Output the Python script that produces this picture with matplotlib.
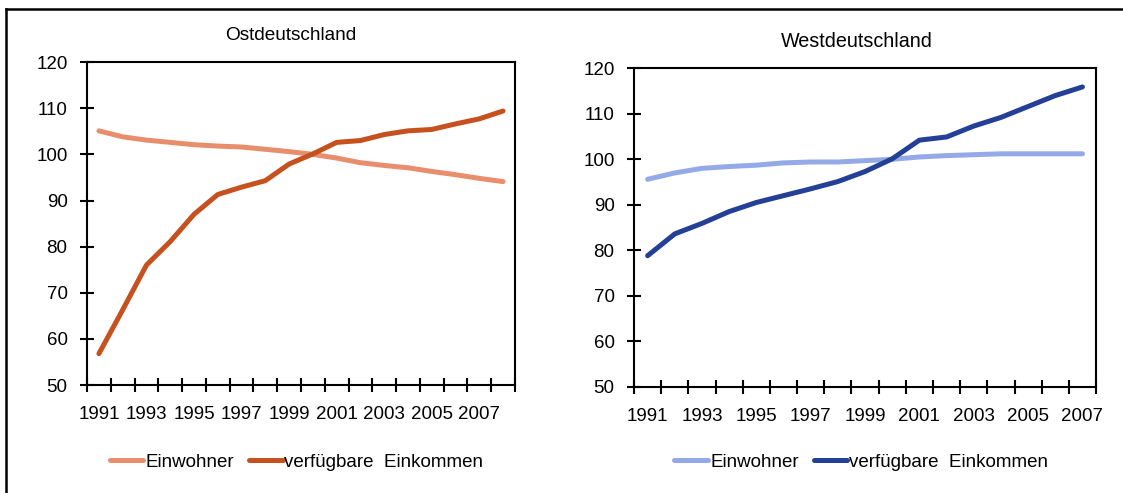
import numpy as np
import matplotlib
matplotlib.use('Agg')
import matplotlib.pyplot as plt
from matplotlib.lines import Line2D

plt.rcParams['font.family'] = ['Liberation Sans', 'DejaVu Sans']

# ── Data ─────────────────────────────────────────────────────
years_ost = list(range(1991, 2009))
ost_einwohner = [105.1, 103.8, 103.1, 102.6, 102.1, 101.8, 101.6, 101.1, 100.6,
                 100.0, 99.2, 98.2, 97.6, 97.1, 96.3, 95.6, 94.8, 94.1]
ost_einkommen = [56.8, 66.3, 76.0, 81.1, 87.0, 91.3, 92.9, 94.3, 97.9,
                 100.1, 102.6, 103.0, 104.3, 105.1, 105.4, 106.6, 107.7, 109.4]

years_west = list(range(1991, 2008))
west_einwohner = [95.6, 97.0, 98.0, 98.4, 98.7, 99.2, 99.4, 99.4, 99.7,
                  100.0, 100.5, 100.8, 101.0, 101.2, 101.2, 101.2, 101.2]
west_einkommen = [78.8, 83.6, 85.9, 88.5, 90.5, 92.0, 93.5, 95.1, 97.3,
                  100.1, 104.2, 104.9, 107.3, 109.2, 111.6, 114.0, 115.9]

label_years = [1991, 1993, 1995, 1997, 1999, 2001, 2003, 2005, 2007]

fs = 13.5
fig = plt.figure(figsize=(11.23, 4.93), dpi=100)


def panel(rect, years, einw, eink, c_light, c_dark, legend_x):
    ax = fig.add_axes(rect)
    x = np.arange(len(years))
    ax.plot(x, einw, color=c_light, linewidth=3.6, solid_capstyle='round', label='Einwohner')
    ax.plot(x, eink, color=c_dark, linewidth=3.6, solid_capstyle='round',
            label='verfügbare  Einkommen')
    ax.set_xlim(-0.5, len(years) - 0.5)
    ax.set_ylim(50, 120)
    ax.set_yticks(range(50, 121, 10))
    ax.set_xticks([years.index(y) for y in label_years])
    ax.set_xticklabels([str(y) for y in label_years])
    ax.set_xticks(np.arange(len(years) + 1) - 0.5, minor=True)
    ax.tick_params(axis='x', which='major', length=0, pad=15, labelsize=fs)
    ax.tick_params(axis='x', which='minor', direction='inout', length=10, width=1.5)
    ax.tick_params(axis='y', direction='inout', length=10, width=1.5, pad=9, labelsize=fs)
    for s in ax.spines.values():
        s.set_linewidth(1.5)
    ax.legend(loc='center', bbox_to_anchor=(legend_x, 0.062), bbox_transform=fig.transFigure,
              ncol=2, frameon=False, fontsize=fs, handlelength=1.8, handletextpad=0.1,
              columnspacing=0.8)
    return ax


panel([0.0775, 0.219, 0.381, 0.655], years_ost, ost_einwohner, ost_einkommen,
      '#E98E6C', '#C7501F', 0.264)
panel([0.5646, 0.2156, 0.4114, 0.6459], years_west, west_einwohner, west_einkommen,
      '#94AAE8', '#233F96', 0.767)

fig.text(0.259, 0.927, 'Ostdeutschland', ha='center', va='center', fontsize=13.7)
fig.text(0.763, 0.915, 'Westdeutschland', ha='center', va='center', fontsize=14.2)

# outer frame (top and left only)
fig.add_artist(Line2D([0.005, 1.0], [0.982, 0.982], color='black', linewidth=1.8))
fig.add_artist(Line2D([0.0055, 0.0055], [0.0, 0.982], color='black', linewidth=1.8))

plt.savefig('out.png', dpi=100)
